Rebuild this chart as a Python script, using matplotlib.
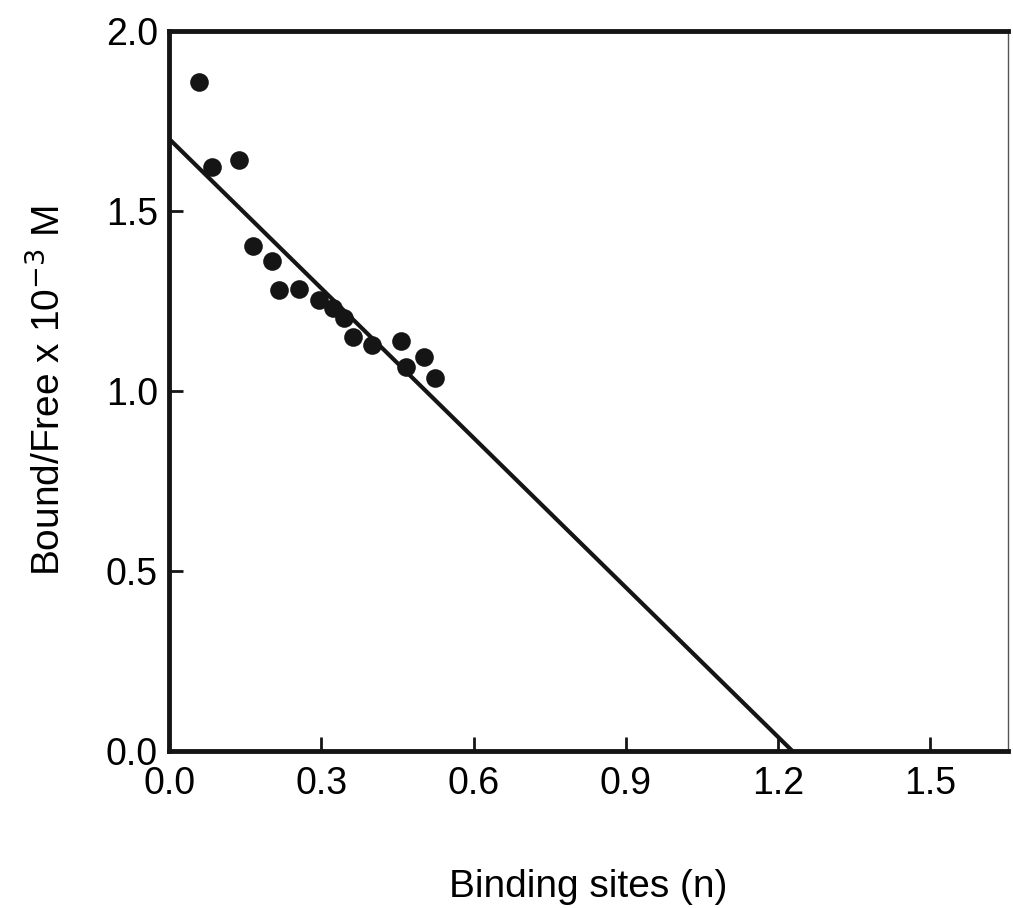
import numpy as np
import matplotlib
matplotlib.use("Agg")
import matplotlib.pyplot as plt

# Pontos (Scatchard)
sitios = [0.059, 0.084, 0.138, 0.166, 0.203, 0.216, 0.256, 0.295,
          0.322, 0.345, 0.363, 0.400, 0.456, 0.466, 0.502, 0.524]
bound_free = [1.859, 1.623, 1.642, 1.403, 1.361, 1.279, 1.284, 1.253,
              1.229, 1.202, 1.151, 1.128, 1.139, 1.067, 1.095, 1.035]

# Reta ajustada: intercepto em y e em x
reta_y0 = 1.70
reta_x0 = 1.228

xticks = [0.0, 0.3, 0.6, 0.9, 1.2, 1.5]
yticks = [0.0, 0.5, 1.0, 1.5, 2.0]

plt.rcParams["font.family"] = ["Liberation Sans", "DejaVu Sans"]

fig = plt.figure(figsize=(10.13, 9.08), dpi=100)
ax = fig.add_axes([0.167, 0.173, 0.828, 0.793])

ax.scatter(sitios, bound_free, s=180, color="#151515", zorder=3, linewidths=0)
ax.plot([0, reta_x0], [reta_y0, 0], color="#151515", linewidth=3.0, zorder=2)

ax.set_xlim(0, 1.653)
ax.set_ylim(0, 2.0)
ax.set_xticks(xticks)
ax.set_yticks(yticks)
ax.set_xticklabels([f"{v:.1f}" for v in xticks])
ax.set_yticklabels([f"{v:.1f}" for v in yticks])

ax.tick_params(direction="in", length=10, width=2, labelsize=27, color="#151515")
ax.tick_params(axis="x", pad=11)
ax.tick_params(axis="y", pad=8)

for lado in ["left", "bottom", "top"]:
    ax.spines[lado].set_linewidth(3.5)
    ax.spines[lado].set_color("#151515")
ax.spines["right"].set_linewidth(1.0)
ax.spines["right"].set_color("#555555")

ax.set_xlabel("Binding sites (n)", fontsize=28, labelpad=48)
ax.set_ylabel("Bound/Free x 10$^{-3}$ M", fontsize=28, labelpad=27)

plt.savefig("out.png", dpi=100)
print("Gráfico gerado com sucesso!")
